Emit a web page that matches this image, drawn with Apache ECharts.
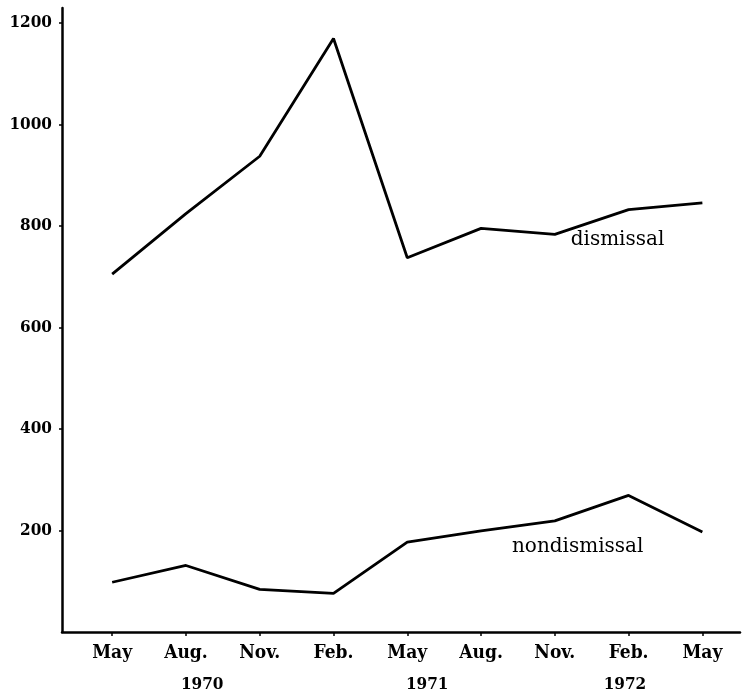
<!DOCTYPE html>
<html>
<head>
<meta charset="utf-8">
<script src="https://cdn.jsdelivr.net/npm/echarts@6/dist/echarts.min.js"></script>
<style>
html,body{margin:0;padding:0;background:#fff;}
#chart{width:753px;height:695px;}
</style>
</head>
<body>
<div id="chart"></div>
<script>
// Data
var months = ['May', 'Aug.', 'Nov.', 'Feb.', 'May', 'Aug.', 'Nov.', 'Feb.', 'May'];
var years = ['1970', '1971', '1972'];
var dismissal = [705, 824, 937, 1169, 737, 795, 783, 832, 845];
var nondismissal = [98, 131, 84, 76, 177, 199, 219, 269, 197];
var yTicks = [200, 400, 600, 800, 1000, 1200];

var monthIdx = months.map(function (m, i) { return i; });
var yearPos = [1.22, 4.27, 6.95];

function pairs(arr) { return arr.map(function (v, i) { return [i, v]; }); }

var ink = '#000';
var axisFont = 'DejaVu Serif Condensed';
var chart = echarts.init(document.getElementById('chart'));
chart.setOption({
  animation: false,
  backgroundColor: '#fff',
  grid: { left: 62, right: 13, top: 8, bottom: 63 },
  xAxis: [{
    type: 'value', min: -0.68, max: 8.51,
    splitLine: { show: false },
    axisLine: { show: true, onZero: false, lineStyle: { color: ink, width: 2.5 } },
    axisTick: { show: true, length: 4, inside: false, customValues: monthIdx, lineStyle: { color: ink, width: 1.5 } },
    axisLabel: {
      customValues: monthIdx, margin: 12,
      color: ink, fontFamily: axisFont, fontWeight: 'bold', fontSize: 19,
      formatter: function (v) { return months[Math.round(v)]; }
    }
  }, {
    type: 'value', min: -0.68, max: 8.51, position: 'bottom',
    splitLine: { show: false },
    axisLine: { show: false, onZero: false }, axisTick: { show: false },
    axisLabel: {
      customValues: yearPos, margin: 44,
      color: ink, fontFamily: axisFont, fontWeight: 'bold', fontSize: 17,
      formatter: function (v) { return years[yearPos.indexOf(v)]; }
    }
  }],
  yAxis: {
    type: 'value', min: 0, max: 1229,
    splitLine: { show: false },
    axisLine: { show: true, onZero: false, lineStyle: { color: ink, width: 2.5 } },
    axisTick: { show: true, length: 3, customValues: yTicks, lineStyle: { color: ink, width: 1.5 } },
    axisLabel: {
      customValues: yTicks, margin: 10,
      color: ink, fontFamily: axisFont, fontWeight: 'bold', fontSize: 17,
      formatter: function (v) { return String(v); }
    }
  },
  series: [{
    name: 'dismissal', type: 'line', data: pairs(dismissal),
    symbol: 'none', lineStyle: { color: ink, width: 2.8 },
    markPoint: {
      symbol: 'circle', symbolSize: 0,
      data: [{ coord: [6.85, 772] }],
      label: { show: true, position: 'inside', formatter: 'dismissal', color: ink, fontFamily: 'DejaVu Serif', fontSize: 20 }
    }
  }, {
    name: 'nondismissal', type: 'line', data: pairs(nondismissal),
    symbol: 'none', lineStyle: { color: ink, width: 2.8 },
    markPoint: {
      symbol: 'circle', symbolSize: 0,
      data: [{ coord: [6.31, 167] }],
      label: { show: true, position: 'inside', formatter: 'nondismissal', color: ink, fontFamily: 'DejaVu Serif', fontSize: 20 }
    }
  }]
});
</script>
</body>
</html>
